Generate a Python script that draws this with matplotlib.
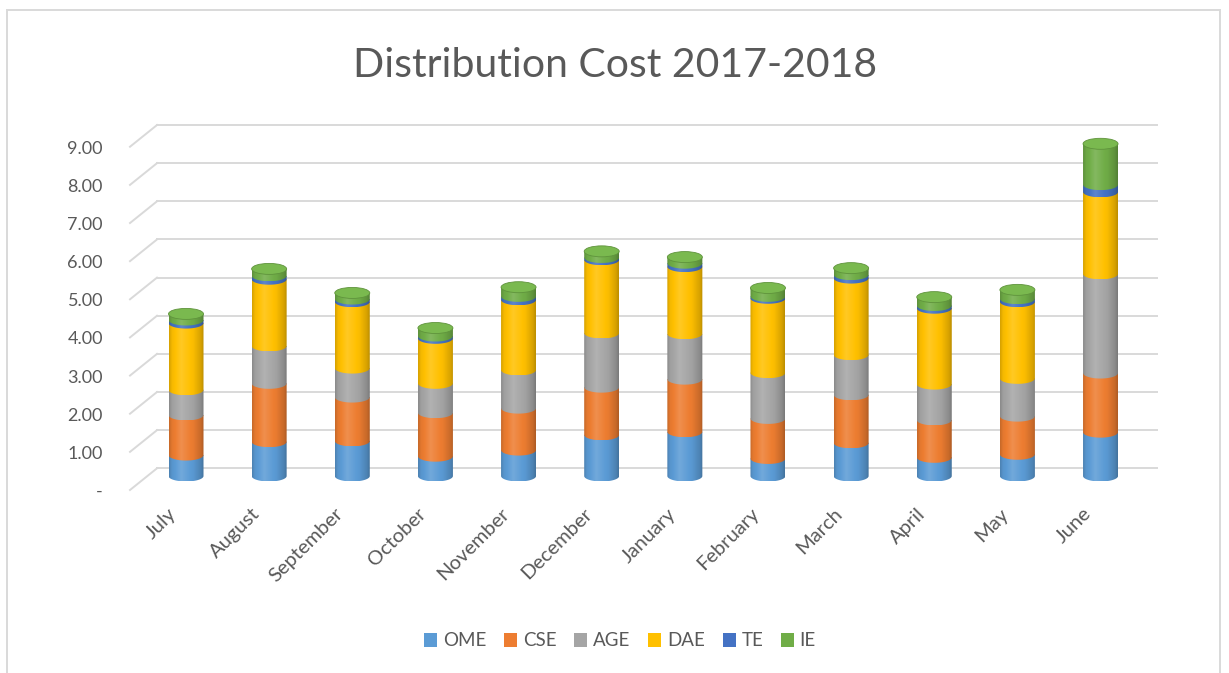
import numpy as np
import matplotlib
matplotlib.use("Agg")
import matplotlib.pyplot as plt
from matplotlib.path import Path
from matplotlib.patches import PathPatch, Ellipse, Patch, Rectangle
from matplotlib.colors import to_rgb
import matplotlib.transforms as mtrans

plt.rcParams['font.family'] = ['Lato', 'DejaVu Sans']

# ---- data -------------------------------------------------------------
months = ["July", "August", "September", "October", "November", "December",
          "January", "February", "March", "April", "May", "June"]
series_names = ["OME", "CSE", "AGE", "DAE", "TE", "IE"]
ome = [0.55, 0.90, 0.92, 0.52, 0.68, 1.08, 1.16, 0.46, 0.87, 0.49, 0.57, 1.15]
cse = [1.05, 1.53, 1.15, 1.14, 1.10, 1.25, 1.38, 1.05, 1.26, 0.98, 1.00, 1.55]
age = [0.66, 0.98, 0.76, 0.77, 1.00, 1.42, 1.19, 1.20, 1.05, 0.94, 0.99, 2.60]
dae = [1.75, 1.75, 1.74, 1.18, 1.84, 1.92, 1.76, 1.95, 2.01, 1.99, 2.01, 2.15]
te = [0.08, 0.09, 0.07, 0.06, 0.09, 0.06, 0.09, 0.05, 0.09, 0.07, 0.08, 0.19]
ie = [0.16, 0.18, 0.16, 0.21, 0.24, 0.16, 0.16, 0.22, 0.17, 0.22, 0.23, 1.07]
yticks = [0, 1, 2, 3, 4, 5, 6, 7, 8, 9]
ytick_labels = ["-", "1.00", "2.00", "3.00", "4.00", "5.00", "6.00", "7.00", "8.00", "9.00"]

colors = ["#5B9BD5", "#ED7D31", "#A5A5A5", "#FFC000", "#4472C4", "#70AD47"]
text_col = "#595959"
grid_col = "#d9d9d9"

# ---- figure / plot area -------------------------------------------------
W, H = 1229, 673
fig = plt.figure(figsize=(W / 100, H / 100), dpi=100)

unit_y = 38.14      # pixels per value unit
base_px = 476       # pixel row of value 0 on the cylinders
step = 83.14        # pixels between categories
first_px = 186      # pixel column of the first category
left_px, right_px = 130, 1157
ymin, ymax = -0.5, 9.5
top_px = base_px - ymax * unit_y
bot_px = base_px - ymin * unit_y

ax = fig.add_axes([left_px / W, 1 - bot_px / H, (right_px - left_px) / W,
                   (bot_px - top_px) / H])
ax.axis('off')


def shifted(base_tr, dx_px, dy_px):
    return base_tr + mtrans.ScaledTranslation(dx_px / 100, dy_px / 100,
                                              fig.dpi_scale_trans)


# ---- 3-D style gridlines (back wall + floor diagonals) -------------------
ytr = ax.get_yaxis_transform()
back_dy, front_dy = 7.7, -14.0
depth = 27 / (right_px - left_px)
for v, lab in zip(yticks, ytick_labels):
    ax.plot([depth, 1], [v, v], transform=shifted(ytr, 0, back_dy),
            color=grid_col, lw=1.4, clip_on=False, zorder=1)
    ax.plot([0, depth], [v, v + (back_dy - front_dy) / unit_y],
            transform=shifted(ytr, 0, front_dy),
            color=grid_col, lw=1.4, clip_on=False, zorder=1)
    ax.text(-27 / (right_px - left_px), v, lab, transform=shifted(ytr, 0, front_dy - 2),
            ha='right', va='center', fontsize=13, color=text_col)

# ---- stacked cylinders ----------------------------------------------------
w = 35 / step
b = 5.5 / unit_y
tgrid = np.linspace(0, 1, 64)
profile = np.interp(tgrid, [0, 0.08, 0.35, 0.7, 0.92, 1.0],
                    [0.84, 0.96, 1.07, 0.98, 0.84, 0.74])


def shade(col, s):
    c = np.array(to_rgb(col))
    out = np.where(s[:, None] >= 1, c + (1 - c) * (s[:, None] - 1) * 2.0,
                   c * s[:, None])
    return np.clip(out, 0, 1)[None, :, :]


data = [ome, cse, age, dae, te, ie]
bottoms = np.zeros(len(months))
theta = np.linspace(0, -np.pi, 48)
for k, (vals, col) in enumerate(zip(data, colors)):
    grad = shade(col, profile)
    for i, v in enumerate(vals):
        y0 = bottoms[i]
        y1 = y0 + v
        xs = np.concatenate([[i - w / 2, i + w / 2], i + w / 2 * np.cos(theta),
                             [i - w / 2]])
        ys = np.concatenate([[y1, y1], y0 + b * np.sin(theta), [y1]])
        codes = [Path.MOVETO] + [Path.LINETO] * (len(xs) - 2) + [Path.CLOSEPOLY]
        patch = PathPatch(Path(np.column_stack([xs, ys]), codes),
                          facecolor='none', edgecolor='none')
        ax.add_patch(patch)
        im = ax.imshow(grad, extent=[i - w / 2, i + w / 2, y0 - b, y1],
                       aspect='auto', interpolation='bilinear',
                       zorder=2 + k * 0.1)
        im.set_clip_path(patch)
    bottoms += np.array(vals)

top_col = np.clip(np.array(to_rgb(colors[-1])) * 1.04 + 0.02, 0, 1)
for i, tot in enumerate(bottoms):
    ax.add_patch(Ellipse((i, tot), w, 2 * b, facecolor=top_col,
                         edgecolor=np.array(to_rgb(colors[-1])) * 0.85,
                         lw=0.6, zorder=3))

# ---- category labels --------------------------------------------------------
for i, m in enumerate(months):
    ax.text(i, 0, m, transform=shifted(ax.transData, -12, -35),
            rotation=45, rotation_mode='anchor', ha='right', va='center',
            fontsize=14.5, color=text_col)

ax.set_xlim((left_px - first_px) / step, (right_px - first_px) / step)
ax.set_ylim(ymin, ymax)

# ---- title, legend, frame ---------------------------------------------------
fig.text(615 / W, 1 - 77 / H, "Distribution Cost 2017-2018", ha='center',
         va='baseline', fontsize=29.5, color=text_col)

handles = [Patch(facecolor=c, edgecolor='none') for c in colors]
fig.legend(handles, series_names, loc='center',
           bbox_to_anchor=(620 / W, 1 - 641 / H), ncol=6, frameon=False,
           fontsize=13.5, handlelength=0.7, handleheight=0.7, handletextpad=0.3,
           columnspacing=0.95, labelcolor=text_col)

fig.add_artist(Rectangle((7 / W, -0.02), (1220 - 7) / W, (H - 9.5) / H + 0.02,
                         transform=fig.transFigure, fill=False,
                         edgecolor=grid_col, lw=1.4))

fig.savefig("out.png", dpi=100)
